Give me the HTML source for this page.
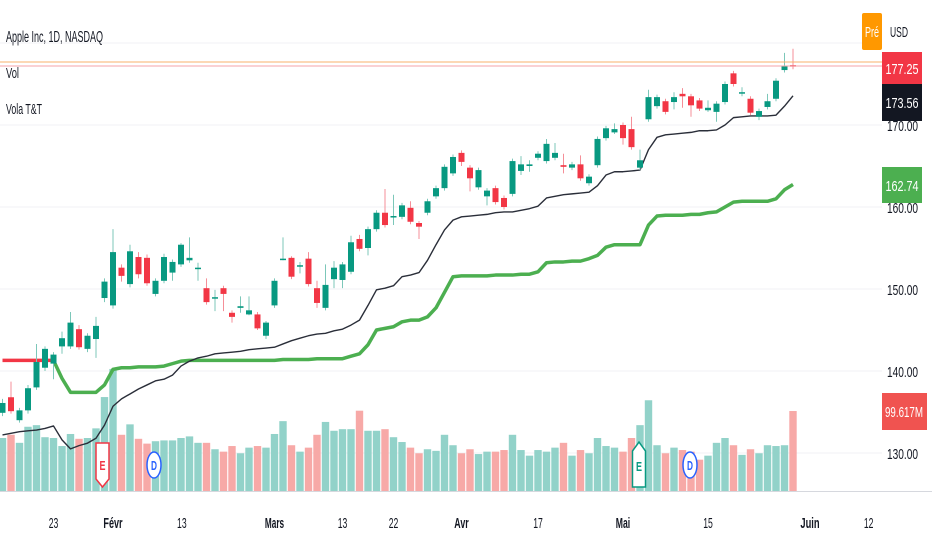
<!DOCTYPE html>
<html><head><meta charset="utf-8"><style>
html,body{margin:0;padding:0;background:#fff;}
svg{display:block;font-family:"Liberation Sans",sans-serif;}
</style></head><body>
<svg id="chart" width="932" height="550" viewBox="0 0 932 550" xmlns="http://www.w3.org/2000/svg">
<g id="grid"></g>
<g id="vol"></g>
<g id="lines"></g>
<g id="candles"></g>
<line x1="0" y1="62" x2="882" y2="62" stroke="#f9b26b" stroke-width="1"/>
<line x1="0" y1="66" x2="882" y2="66" stroke="#f5a3a8" stroke-width="1"/>
<line x1="0" y1="491.5" x2="932" y2="491.5" stroke="#d6d8de" stroke-width="1"/>
<text x="6" y="42" font-size="16" fill="#131722" textLength="97" lengthAdjust="spacingAndGlyphs">Apple Inc, 1D, NASDAQ</text>
<text x="6" y="78" font-size="15" fill="#131722" textLength="13" lengthAdjust="spacingAndGlyphs">Vol</text>
<text x="6" y="114" font-size="15" fill="#131722" textLength="36" lengthAdjust="spacingAndGlyphs">Vola T&amp;T</text>
<g id="yaxis"></g>
<g id="xaxis"></g>
<g>
<path d="M96,443 L109,443 L109,479 L102.5,487 L96,479 Z" fill="#fff" stroke="#f23645" stroke-width="1.5"/>
<text x="102.5" y="470" font-size="13" fill="#f23645" text-anchor="middle" font-weight="bold" textLength="6" lengthAdjust="spacingAndGlyphs">E</text></g>
<g>
<ellipse cx="154" cy="465" rx="7" ry="13" fill="#fff" stroke="#2962ff" stroke-width="1.5"/>
<text x="154" y="470" font-size="13" fill="#2962ff" text-anchor="middle" font-weight="bold" textLength="6" lengthAdjust="spacingAndGlyphs">D</text></g>
<g>
<path d="M632.5,451 L639,442 L645.5,451 L645.5,487 L632.5,487 Z" fill="#fff" stroke="#089981" stroke-width="1.5"/>
<text x="639" y="471" font-size="13" fill="#089981" text-anchor="middle" font-weight="bold" textLength="6" lengthAdjust="spacingAndGlyphs">E</text></g>
<g>
<ellipse cx="690" cy="465" rx="7" ry="13" fill="#fff" stroke="#2962ff" stroke-width="1.5"/>
<text x="690" y="470" font-size="13" fill="#2962ff" text-anchor="middle" font-weight="bold" textLength="6" lengthAdjust="spacingAndGlyphs">D</text></g>
<g>
<rect x="862" y="13" width="20" height="37" rx="2" fill="#ff9800"/>
<text x="872" y="37" font-size="15" fill="#fff" text-anchor="middle" textLength="14" lengthAdjust="spacingAndGlyphs">Pré</text></g>
<text x="890" y="37" font-size="15" fill="#131722" textLength="18" lengthAdjust="spacingAndGlyphs">USD</text>
<g>
<rect x="882" y="52" width="40" height="32" fill="#f23645"/>
<text x="902" y="74" font-size="15" fill="#fff" text-anchor="middle" textLength="33" lengthAdjust="spacingAndGlyphs">177.25</text></g>
<g>
<rect x="882" y="84" width="40" height="37" fill="#131722"/>
<text x="902" y="108" font-size="15" fill="#fff" text-anchor="middle" textLength="33" lengthAdjust="spacingAndGlyphs">173.56</text></g>
<g>
<rect x="882" y="167" width="40" height="36" fill="#4caf50"/>
<text x="902" y="191" font-size="15" fill="#fff" text-anchor="middle" textLength="33" lengthAdjust="spacingAndGlyphs">162.74</text></g>
<g>
<rect x="882" y="393" width="45" height="37" fill="#f05350"/>
<text x="904" y="417" font-size="15" fill="#fff" text-anchor="middle" textLength="38" lengthAdjust="spacingAndGlyphs">99.617M</text></g>
</svg>
<script>
const opens=[134.9,136.8,134.0,135.2,138.0,140.4,140.9,143.0,143.0,145.1,142.7,143.9,148.9,148.0,152.6,150.6,153.9,153.8,149.4,151.0,152.0,153.0,153.5,152.45,150.1,148.9,150.1,147.1,147.7,146.9,146.9,144.3,148.0,153.6,153.8,152.8,153.7,150.1,147.7,151.2,151.1,152.1,156.1,155.0,157.3,159.3,158.8,158.8,159.9,158.05,159.3,161.3,162.3,164.1,166.6,164.8,162.4,161.3,162.3,161.1,161.6,164.4,165.0,166.0,165.6,166.0,165.1,164.8,165.2,162.9,165.1,168.4,169.1,170.0,169.5,164.8,170.7,172.3,172.9,172.8,173.8,173.5,173.0,171.8,171.6,172.8,176.3,173.9,173.2,171.0,172.2,173.2,176.7,177.3];
const highs=[136.6,138.7,135.5,138.3,143.3,143.0,142.3,144.8,147.2,145.6,144.6,146.6,151.3,157.3,153.0,155.4,154.5,154.2,151.3,154.3,153.6,155.6,156.3,153.2,151.3,149.9,150.4,147.4,149.1,149.1,147.2,146.1,151.3,156.3,154.0,153.3,154.5,151.0,153.0,153.4,153.3,156.5,156.6,157.6,159.6,162.2,161.5,160.5,160.7,158.3,161.0,162.6,165.2,166.4,166.9,165.1,164.8,162.3,162.6,161.4,165.9,166.2,165.7,166.8,168.3,167.8,166.5,165.5,166.3,164.0,168.6,169.9,170.2,170.3,171.0,167.0,174.3,173.7,173.2,174.0,174.5,173.8,173.3,173.0,172.9,175.3,176.6,174.6,173.5,172.0,173.8,175.7,178.8,179.3];
const lows=[134.5,134.8,133.7,134.8,137.7,140.0,139.0,142.1,142.7,142.6,142.3,141.6,148.4,147.6,150.9,150.2,151.3,150.4,149.1,150.7,151.0,152.7,153.2,151.0,148.1,147.3,147.3,145.9,147.1,146.8,145.0,143.9,147.7,153.5,151.2,151.9,150.3,147.7,147.4,150.1,150.1,151.8,154.6,154.1,157.0,157.5,157.8,158.5,157.9,156.1,159.0,161.0,162.0,163.8,165.0,161.9,162.1,160.2,160.3,159.7,161.3,163.9,164.3,165.7,165.3,165.7,164.1,164.5,163.2,162.6,164.8,168.1,168.9,167.6,167.0,164.5,170.4,172.0,171.3,171.9,172.1,171.0,171.7,171.6,170.4,172.5,174.7,173.5,171.2,170.6,171.9,172.9,176.4,176.8];
const closes=[136.1,135.1,135.2,137.9,141.1,142.7,142.0,144.0,145.9,142.9,144.3,145.5,150.9,154.5,151.6,154.6,151.8,150.7,151.0,153.9,153.3,155.4,153.8,152.6,148.4,149.0,149.4,146.6,147.9,147.4,145.2,145.9,151.0,153.7,151.5,152.9,150.6,148.3,150.5,152.6,153.0,155.7,154.9,157.3,159.3,157.8,158.9,160.2,158.2,157.6,160.7,162.3,164.9,166.1,165.5,163.5,164.5,162.0,160.6,160.0,165.6,165.2,165.2,166.5,167.7,166.6,164.9,165.2,163.5,163.7,168.3,169.6,169.5,168.4,167.3,165.7,173.4,173.4,171.6,173.4,173.5,172.4,172.0,172.1,172.6,175.0,175.0,174.0,171.5,171.7,172.9,175.4,177.2,177.25];
const volumes=[66,70,60,80,82,67,66,56,71,65,66,78,117,152,70,83,65,59,62,63,63,66,68,60,60,52,49,56,47,54,56,54,71,87,57,49,54,70,86,75,77,77,100,75,75,77,67,61,54,47,52,50,70,57,47,52,46,49,49,51,70,51,44,51,49,54,60,44,51,47,66,56,54,49,66,82,113,57,47,54,51,49,39,44,60,66,57,45,52,47,57,56,57,99.617];
const blackLine=[132.2,132.4,132.6,132.7,132.8,133.0,133.3,131.6,130.5,130.9,131.2,131.8,133.4,135.7,136.6,137.2,137.8,138.3,138.8,139.0,139.5,140.6,141.2,141.6,141.8,142.1,142.2,142.3,142.4,142.6,142.7,142.8,142.9,143.3,143.7,144.0,144.3,144.5,144.6,144.9,145.1,145.6,146.2,148.0,149.9,150.1,150.4,151.5,151.7,152.0,153.5,155.4,157.2,158.4,158.8,158.9,159.0,159.1,159.3,159.4,159.4,159.6,159.8,160.1,161.1,161.3,161.5,161.6,161.7,161.8,162.6,163.9,164.3,164.3,164.4,164.5,167.0,168.5,168.8,168.9,169.0,169.1,169.3,169.3,169.4,170.0,170.9,171.0,171.1,171.1,171.1,171.2,172.3,173.56];
const stopLine=[141.3,141.3,141.3,141.3,141.3,141.3,141.3,139.1,137.4,137.4,137.4,137.4,138.3,140.2,140.4,140.4,140.5,140.5,140.5,140.6,140.9,141.2,141.3,141.3,141.3,141.3,141.3,141.3,141.3,141.3,141.3,141.3,141.3,141.4,141.4,141.4,141.4,141.5,141.5,141.5,141.5,141.8,142.1,143.2,145.0,145.2,145.4,146.0,146.2,146.2,146.6,147.7,149.6,151.5,151.6,151.6,151.6,151.6,151.7,151.7,151.7,151.8,151.8,152.1,153.2,153.3,153.3,153.4,153.4,153.7,154.1,155.1,155.4,155.4,155.4,155.4,157.8,158.9,159.0,159.0,159.0,159.1,159.1,159.3,159.4,160.0,160.6,160.7,160.7,160.7,160.7,161.0,162.1,162.74];
const redCount=7;
const priceTicks=[170,160,150,140,130];
const priceTickLabels=["170.00","160.00","150.00","140.00","130.00"];
const gridPrices=[180,170,160,150,140,130];
const dateLabels=["23","Févr","13","Mars","13","22","Avr","17","Mai","15","Juin","12"];
const dateIndex=[6,13,21.1,32,40,46,54,63,73,83,95,101.9];
const dateBold=[0,1,0,1,0,0,1,0,1,0,1,0];

const NS="http://www.w3.org/2000/svg";
const xOf=i=>2.5+i*8.5;
const yOf=p=>125+(170-p)*8.2;
const vOf=v=>491-v*0.803;
function mk(tag,attrs,parent){const e=document.createElementNS(NS,tag);for(const k in attrs)e.setAttribute(k,attrs[k]);parent.appendChild(e);return e;}
const grid=document.getElementById('grid');
gridPrices.forEach(p=>{const l=mk('line',{x1:0,x2:882,y1:yOf(p),y2:yOf(p),stroke:'#f0f1f4','stroke-width':1},grid);

});
const yaxis=document.getElementById('yaxis');
priceTicks.forEach((p,k)=>{const t=mk('text',{x:887,y:yOf(p)+6,'font-size':15,fill:'#131722',textLength:31,lengthAdjust:'spacingAndGlyphs'},yaxis);t.textContent=priceTickLabels[k];

});
const xaxis=document.getElementById('xaxis');
dateLabels.forEach((s,k)=>{const t=mk('text',{x:xOf(dateIndex[k]),y:528,'font-size':15,fill:'#131722','text-anchor':'middle','font-weight':dateBold[k]?'bold':'normal',textLength:s.length*4.8,lengthAdjust:'spacingAndGlyphs'},xaxis);t.textContent=s;

});
const vol=document.getElementById('vol');
volumes.forEach((v,i)=>{const up=closes[i]>=opens[i];const r=mk('rect',{x:xOf(i)-3.7,y:vOf(v),width:7.4,height:491-vOf(v),fill:up?'#92d2c9':'#f7a9a7'},vol);

});
const lines=document.getElementById('lines');
const pts=(arr,a,b)=>arr.slice(a,b).map((v,j)=>xOf(a+j)+','+yOf(v)).join(' ');
const red=mk('polyline',{points:pts(stopLine,0,redCount),fill:'none',stroke:'#f23645','stroke-width':3.5},lines);


const grn=mk('polyline',{points:pts(stopLine,redCount-1,stopLine.length),fill:'none',stroke:'#4caf50','stroke-width':3.5,'stroke-linejoin':'round'},lines);


const blk=mk('polyline',{points:pts(blackLine,0,blackLine.length),fill:'none',stroke:'#2a2e39','stroke-width':1.4,'stroke-linejoin':'round'},lines);


const cg=document.getElementById('candles');
opens.forEach((o,i)=>{const c=closes[i];const up=c>=o;const col=up?'#089981':'#f23645';const wc=up?'#7cc7b9':'#f58f98';
const x=xOf(i);
const w=mk('line',{x1:x,x2:x,y1:yOf(highs[i]),y2:yOf(lows[i]),stroke:wc,'stroke-width':1},cg);


const top=yOf(Math.max(o,c));const h=Math.max(1.5,yOf(Math.min(o,c))-top);
const b=mk('rect',{x:x-3,y:top,width:6,height:h,fill:col},cg);

});
</script>
</body></html>
